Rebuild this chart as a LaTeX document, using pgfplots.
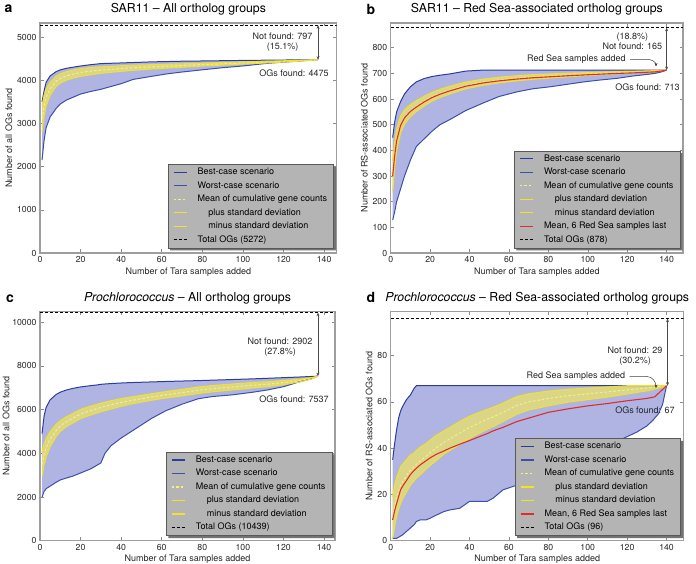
\documentclass[border=0pt]{standalone}
\usepackage{pgfplots}
\pgfplotsset{compat=1.18}
\usepackage{pgfplotstable}
\usepgfplotslibrary{fillbetween}
\usetikzlibrary{arrows.meta}
\usepackage{fontspec}
\setmainfont{TeX Gyre Heros}

\definecolor{fillblue}{RGB}{176,180,226}
\definecolor{bestblue}{RGB}{45,60,155}
\definecolor{worstblue}{RGB}{60,80,170}
\definecolor{bandyellow}{RGB}{246,236,80}
\definecolor{lineyellow}{RGB}{240,226,45}
\definecolor{meanyellow}{RGB}{246,240,130}
\definecolor{redline}{RGB}{225,45,35}
\definecolor{legendgray}{RGB}{180,180,180}

\pgfplotstableread{
x best worst mean hi lo
1 3500 2150 3100 3400 2800
2 3750 2600 3400 3650 3150
3 3950 2900 3600 3800 3400
5 4100 3150 3800 3950 3650
8 4200 3350 3980 4100 3860
10 4240 3450 4040 4150 3930
13 4275 3540 4100 4200 4000
16 4300 3600 4140 4235 4045
20 4330 3680 4180 4270 4090
25 4360 3740 4210 4295 4125
30 4385 3790 4235 4310 4160
40 4400 3920 4270 4335 4205
46 4410 4020 4290 4350 4230
55 4425 4090 4310 4360 4260
62 4432 4143 4325 4370 4280
70 4440 4190 4340 4380 4300
79 4445 4236 4360 4395 4325
90 4452 4290 4380 4410 4350
100 4458 4330 4400 4425 4375
112 4464 4391 4420 4440 4400
125 4470 4435 4445 4457 4433
137 4475 4475 4475 4475 4475
}\tabA

\pgfplotstableread{
x best worst mean hi lo red
1 450 128 300 360 240 300
2 510 160 380 430 330 378
3 550 200 440 482 398 437
5 590 250 500 533 467 497
7 620 300 530 558 502 527
10 648 362 555 579 531 552
13 667 415 572 593 551 569
17 680 445 592 611 573 589
21 688 475 609 626 592 606
25 693 500 622 638 606 619
30 698 520 635 650 620 632
38 709 555 653 666 640 650
47 713 585 666 678 654 663
55 713 610 674 685 663 671
64 713 628 681 691 671 678
72 713 640 686 695 677 683
81 713 648 690 698 682 687
90 713 658 694 701 687 691
98 713 667 697 703 691 694
106 713 674 700 705 695 697
115 713 681 703 707 699 700
123 713 690 705 708 702 702
131 713 697 708 710 706 705
134 713 700 709 711 707 706
137 713 705 711 712 710 709
140 713 713 713 713 713 713
}\tabB

\pgfplotstableread{
x best worst mean hi lo
1 4900 2000 3500 4050 2950
2 5700 2250 3950 4430 3470
3 6100 2380 4250 4670 3830
5 6450 2500 4650 5000 4300
8 6700 2680 5050 5330 4770
10 6800 2780 5250 5500 5000
13 6900 2870 5450 5680 5220
16 6970 2950 5600 5820 5380
20 7040 3100 5800 6010 5590
25 7100 3290 5960 6165 5755
28 7130 3450 6040 6240 5840
30 7160 3560 6100 6300 5900
32 7175 4000 6150 6345 5955
35 7195 4350 6220 6410 6030
40 7220 4700 6330 6505 6155
45 7240 5000 6420 6580 6260
50 7255 5300 6500 6655 6345
55 7270 5600 6580 6730 6430
62 7290 5950 6680 6830 6530
70 7310 6250 6780 6930 6630
78 7330 6500 6890 7040 6740
85 7350 6600 6960 7105 6815
95 7380 6680 7040 7175 6905
105 7410 6800 7120 7245 6995
112 7436 6900 7165 7280 7050
120 7465 7050 7240 7335 7145
128 7495 7280 7330 7395 7265
134 7520 7420 7440 7470 7410
137 7537 7537 7537 7537 7537
}\tabC

\pgfplotstableread{
x best worst mean hi lo
1 35 1 10 19 1
2 42 1 15 24 6
3 48 1 19 27.5 10.5
4 53 1.5 21.5 29.5 13.5
5 56 2 24 32 16
6 58 2.5 25.5 33 18
8 61 4 28 35 21
10 63 5.5 30.5 37 24
12 66 7 32 38 26
13 67 8.3 33 39 27
15 67 9 34.5 40.5 28.5
18 67 9 36.5 42 31
20 67 9.7 38 43.5 32.5
23 67 11 40 45.5 34.5
27 67 12.6 42.5 47.5 37.5
30 67 13.3 44 49 39
35 67 14 46.5 51.5 41.5
40 67 17 49 53.8 44.2
45 67 17 51 55.5 46.5
49 67 17 52.5 56.8 48.2
52 67 18.4 53.5 57.7 49.3
57 67 22 55.5 59.5 51.5
64 67 24 58.5 62.3 54.7
70 67 26 60 63.5 56.5
80 67 29 61.5 64.7 58.3
90 67 33 62.7 65.5 59.9
100 67 37 63.5 66 61
110 67 41 64.3 66.5 62.1
120 67 45 65.2 67 63.4
125 67 47 65.6 67 64.1
130 67 49.6 66 67 64.8
133 67 52 66.3 67 65.3
136 67 55 66.6 67 66
138 67 59 66.8 67 66.4
140 67 67 67 67 67
}\tabD

\pgfplotstableread{
x red
1 9
2 13
3 16
4 19
5 22
6 23.5
8 26
10 28.6
12 30.5
13 31.3
15 32.8
18 34.6
20 35.8
23 37.3
27 38.8
30 40
35 41.7
40 43.3
45 45
49 46.3
52 47.5
57 49
64 51.5
70 53
80 55.5
90 57
100 58.3
110 59.3
120 60.5
125 61
130 61.5
134 62.2
140 67
}\tabDred

\tikzset{
  annot/.style={font=\fontsize{9}{10}\selectfont, text=black!85, align=center},
  dblarrow/.style={{Stealth[length=3.5pt,width=3pt]}-{Stealth[length=3.5pt,width=3pt]}, black!70, line width=0.5pt},
  onearrow/.style={-{Stealth[length=3.5pt,width=3pt]}, black!75, line width=0.5pt},
  legshadow/.style={fill=black!55, draw=none},
}
\newcommand{\legshadow}[1]{%
  \fill[legshadow] ([shift={(2.5pt,-2.5pt)}]#1.south west) -- ([shift={(2.5pt,-2.5pt)}]#1.south east)
   -- ([shift={(2.5pt,-2.5pt)}]#1.north east) -- ([shift={(0pt,-2.5pt)}]#1.north east)
   -- (#1.south east) -- ([shift={(2.5pt,0pt)}]#1.south west) -- cycle;}

\pgfplotsset{
  panel/.style={
    scale only axis, set layers, anchor=south west,
    xmin=0, ymin=0,
    xtick={0,20,...,140},
    axis line style={draw=black!38, line width=1.2pt},
    tick style={draw=black!45, line width=0.6pt},
    major tick length=3.5pt,
    tick align=inside,
    scaled ticks=false,
    /pgf/number format/assume math mode=true,
    /pgf/number format/set thousands separator={},
    tick label style={font=\fontsize{8.7}{10}\selectfont, text=black!85},
    label style={font=\fontsize{9}{10}\selectfont, text=black!85},
    xlabel={Number of Tara samples added},
    xlabel style={yshift=2pt},
    ylabel shift=-2pt,
    title style={font=\fontsize{12.3}{14}\selectfont, yshift=-2pt},
    legend cell align=left,
    legend image code/.code={\draw[##1, line width=1.3pt] (0pt,0pt) -- (13pt,0pt);},
    legend style={at={(0.99,0.022)}, anchor=south east, fill=legendgray, draw=black!65,
      font=\fontsize{9}{10}\selectfont, row sep=1.5pt, column sep=9pt,
      inner xsep=5pt, inner ysep=2pt,
      nodes={inner sep=1.5pt, text height=7pt, text depth=2pt}},
  },
  bestl/.style={color=bestblue, line width=1pt},
  worstl/.style={color=worstblue, line width=1pt},
  meanl/.style={color=meanyellow, line width=1pt, dash pattern=on 2.5pt off 2pt},
  bandl/.style={color=lineyellow, line width=1pt},
  bandfill/.style={fill=bandyellow, fill opacity=0.62, draw=none, forget plot},
  redl/.style={color=redline, line width=1.1pt},
  totall/.style={color=black, line width=1.1pt, dash pattern=on 3pt off 2pt},
}

\begin{document}
\begin{tikzpicture}

% ---------------- a ----------------
\begin{axis}[panel, at={(40pt,310pt)}, width=296.7pt, height=230pt,
  xmax=146.2, ymax=5325, ytick={0,1000,2000,3000,4000,5000},
  ylabel={Number of all OGs found},
  legend style={name=legA},
  title={SAR11 -- All ortholog groups}]
\addplot[bestl, name path=bestA] table[x=x,y=best]{\tabA};
\addlegendentry{Best-case scenario}
\addplot[worstl, name path=worstA] table[x=x,y=worst]{\tabA};
\addlegendentry{Worst-case scenario}
\addplot[meanl] table[x=x,y=mean]{\tabA};
\addlegendentry{Mean of cumulative gene counts}
\addplot[bandl, name path=hiA] table[x=x,y=hi]{\tabA};
\addlegendentry{\hspace{1.2em}plus standard deviation}
\addplot[bandl, name path=loA] table[x=x,y=lo]{\tabA};
\addlegendentry{\hspace{1.2em}minus standard deviation}
\addplot[totall] coordinates {(0,5272) (146.2,5272)};
\addlegendentry{Total OGs (5272)}
\addplot[fill=fillblue, draw=none, forget plot] fill between[of=bestA and worstA];
\addplot[bandfill] fill between[of=hiA and loA];
\node[annot] at (axis cs:119.5,4873) {Not found: 797\\(15.1\%)};
\draw[dblarrow] (axis cs:137,5272) -- (axis cs:137,4475);
\node[annot] at (axis cs:125.2,4167) {OGs found: 4475};
\end{axis}
\legshadow{legA}

% ---------------- b ----------------
\begin{axis}[panel, at={(390.7pt,310pt)}, width=292.3pt, height=230pt,
  xmax=148.3, ymax=896.5, ytick={0,100,...,800},
  ylabel={Number of RS-associated OGs found},
  legend style={name=legB},
  title={SAR11 -- Red Sea-associated ortholog groups}]
\addplot[bestl, name path=bestB] table[x=x,y=best]{\tabB};
\addlegendentry{Best-case scenario}
\addplot[worstl, name path=worstB] table[x=x,y=worst]{\tabB};
\addlegendentry{Worst-case scenario}
\addplot[meanl] table[x=x,y=mean]{\tabB};
\addlegendentry{Mean of cumulative gene counts}
\addplot[bandl, name path=hiB] table[x=x,y=hi]{\tabB};
\addlegendentry{\hspace{1.2em}plus standard deviation}
\addplot[bandl, name path=loB] table[x=x,y=lo]{\tabB};
\addlegendentry{\hspace{1.2em}minus standard deviation}
\addplot[redl] table[x=x,y=red]{\tabB};
\addlegendentry{Mean, 6 Red Sea samples last}
\addplot[totall] coordinates {(0,878) (148.3,878)};
\addlegendentry{Total OGs (878)}
\addplot[fill=fillblue, draw=none, forget plot] fill between[of=bestB and worstB];
\addplot[bandfill] fill between[of=hiB and loB];
\node[annot] at (axis cs:122.6,823.6) {(18.8\%)\\Not found: 165};
\draw[dblarrow] (axis cs:140,878) -- (axis cs:140,713);
\node[annot, anchor=east] at (axis cs:121,755) {Red Sea samples added};
\draw[onearrow] (axis cs:121.5,755) -- (axis cs:130,755) to[out=0,in=90] (axis cs:134.6,727);
\node[annot] at (axis cs:130.3,645.6) {OGs found: 713};
\end{axis}
\legshadow{legB}

% ---------------- c ----------------
\begin{axis}[panel, at={(40pt,22.3pt)}, width=295pt, height=229pt,
  xmax=145.4, ymax=10485, ytick={0,2000,4000,6000,8000,10000},
  ylabel={Number of all OGs found}, ylabel shift=-4pt,
  legend style={name=legC},
  title={\textit{Prochlorococcus} -- All ortholog groups}]
\addplot[bestl, name path=bestC] table[x=x,y=best]{\tabC};
\addlegendentry{Best-case scenario}
\addplot[worstl, name path=worstC] table[x=x,y=worst]{\tabC};
\addlegendentry{Worst-case scenario}
\addplot[meanl] table[x=x,y=mean]{\tabC};
\addlegendentry{Mean of cumulative gene counts}
\addplot[bandl, name path=hiC] table[x=x,y=hi]{\tabC};
\addlegendentry{\hspace{1.2em}plus standard deviation}
\addplot[bandl, name path=loC] table[x=x,y=lo]{\tabC};
\addlegendentry{\hspace{1.2em}minus standard deviation}
\addplot[totall] coordinates {(0,10439) (145.4,10439)};
\addlegendentry{Total OGs (10439)}
\addplot[fill=fillblue, draw=none, forget plot] fill between[of=bestC and worstC];
\addplot[bandfill] fill between[of=hiC and loC];
\node[annot] at (axis cs:118.3,8883) {Not found: 2902\\(27.8\%)};
\draw[dblarrow] (axis cs:137,10439) -- (axis cs:137,7537);
\node[annot] at (axis cs:125.2,6488) {OGs found: 7537};
\end{axis}
\legshadow{legC}

% ---------------- d ----------------
\begin{axis}[panel, at={(390.7pt,22.3pt)}, width=293pt, height=229pt,
  xmax=148.7, ymax=99, ytick={0,20,40,60,80},
  ylabel={Number of RS-associated OGs found},
  legend style={name=legD},
  title={\textit{Prochlorococcus} -- Red Sea-associated ortholog groups}]
\addplot[bestl, name path=bestD] table[x=x,y=best]{\tabD};
\addlegendentry{Best-case scenario}
\addplot[worstl, name path=worstD] table[x=x,y=worst]{\tabD};
\addlegendentry{Worst-case scenario}
\addplot[meanl] table[x=x,y=mean]{\tabD};
\addlegendentry{Mean of cumulative gene counts}
\addplot[bandl, name path=hiD] table[x=x,y=hi]{\tabD};
\addlegendentry{\hspace{1.2em}plus standard deviation}
\addplot[bandl, name path=loD] table[x=x,y=lo]{\tabD};
\addlegendentry{\hspace{1.2em}minus standard deviation}
\addplot[redl] table[x=x,y=red]{\tabDred};
\addlegendentry{Mean, 6 Red Sea samples last}
\addplot[totall] coordinates {(0,96) (148.7,96)};
\addlegendentry{Total OGs (96)}
\addplot[fill=fillblue, draw=none, forget plot] fill between[of=bestD and worstD];
\addplot[bandfill] fill between[of=hiD and loD];
\node[annot] at (axis cs:124,79.9) {Not found: 29\\(30.2\%)};
\draw[dblarrow] (axis cs:140.5,96) -- (axis cs:140.5,67);
\node[annot, anchor=east] at (axis cs:120.8,71) {Red Sea samples added};
\draw[onearrow] (axis cs:121.3,71) -- (axis cs:130,71) to[out=0,in=90] (axis cs:134.6,66);
\node[annot] at (axis cs:129,56.5) {OGs found: 67};
\end{axis}
\legshadow{legD}

\node[font=\bfseries\fontsize{14}{14}\selectfont] at (8.5pt,554pt) {a};
\node[font=\bfseries\fontsize{14}{14}\selectfont] at (371pt,554pt) {b};
\node[font=\bfseries\fontsize{14}{14}\selectfont] at (10pt,264.5pt) {c};
\node[font=\bfseries\fontsize{14}{14}\selectfont] at (371pt,265.5pt) {d};
\pgfresetboundingbox
\path[use as bounding box] (0,0) rectangle (696pt,563pt);
\end{tikzpicture}
\end{document}
